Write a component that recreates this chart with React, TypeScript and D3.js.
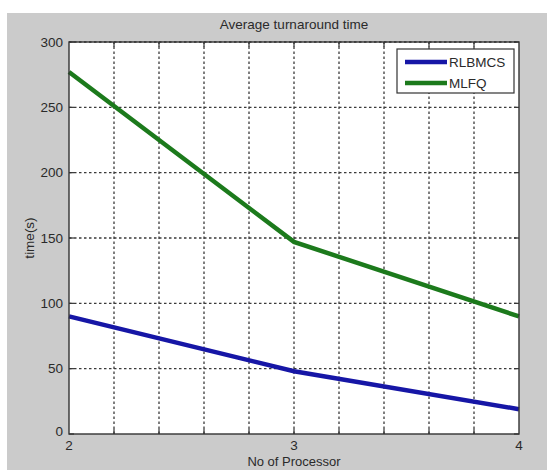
import React, { useRef, useEffect } from "react"
import * as d3 from "d3"

// data
const processors = [2, 3, 4]
const rlbmcs = [90, 48, 19]
const mlfq = [277, 147, 90]
const seriesNames = ["RLBMCS", "MLFQ"]
const yTicks = [0, 50, 100, 150, 200, 250, 300]
const xLabelTicks = [2, 3, 4]
const xGridTicks = [2.2, 2.4, 2.6, 2.8, 3, 3.2, 3.4, 3.6, 3.8]

const App = () => {
  const ref = useRef(null)
  const width = 547
  const height = 470
  const margin = { top: 42, right: 28, bottom: 36, left: 69 }

  useEffect(() => {
    if (!ref.current) return
    const svg = d3.select(ref.current)
    svg.selectAll("*").remove()

    const font = "'Liberation Sans', Arial, sans-serif"
    const x = d3.scaleLinear().domain([2, 4]).range([margin.left, width - margin.right])
    const y = d3.scaleLinear().domain([0, 300]).range([height - margin.bottom, margin.top])

    // figure background
    svg.append("rect").attr("width", width).attr("height", height).attr("fill", "#fff")
    svg.append("rect").attr("x", 7).attr("y", 13).attr("width", width - 7).attr("height", height - 13).attr("fill", "#cbcbcb")

    // plot area
    svg.append("rect")
      .attr("x", x(2)).attr("y", y(300))
      .attr("width", x(4) - x(2)).attr("height", y(0) - y(300))
      .attr("fill", "#fff")

    const grid = svg.append("g").attr("stroke", "#3a3a3a").attr("stroke-width", 1.3).attr("stroke-dasharray", "2.5,2.5")
    grid.selectAll("line.v").data(xGridTicks).join("line")
      .attr("x1", d => x(d)).attr("x2", d => x(d))
      .attr("y1", y(0)).attr("y2", y(300))
    grid.selectAll("line.h").data(yTicks.slice(1)).join("line")
      .attr("class", "h")
      .attr("x1", x(2)).attr("x2", x(4))
      .attr("y1", d => y(d)).attr("y2", d => y(d))

    // tick marks, inward on all four sides
    const ticks = svg.append("g").attr("stroke", "#333").attr("stroke-width", 1.2)
    const tl = 5
    xGridTicks.forEach(d => {
      ticks.append("line").attr("x1", x(d)).attr("x2", x(d)).attr("y1", y(0)).attr("y2", y(0) - tl)
      ticks.append("line").attr("x1", x(d)).attr("x2", x(d)).attr("y1", y(300)).attr("y2", y(300) + tl)
    })
    yTicks.forEach(d => {
      ticks.append("line").attr("x1", x(2)).attr("x2", x(2) + tl).attr("y1", y(d)).attr("y2", y(d))
      ticks.append("line").attr("x1", x(4)).attr("x2", x(4) - tl).attr("y1", y(d)).attr("y2", y(d))
    })

    // lines
    const line = d3.line<number>().x((d, i) => x(processors[i])).y(d => y(d))
    const colors = ["#1616a6", "#1c7a1c"]
    ;[rlbmcs, mlfq].forEach((s, k) => {
      svg.append("path").datum(s)
        .attr("d", line)
        .attr("fill", "none")
        .attr("stroke", colors[k])
        .attr("stroke-width", 4.5)
    })

    // axis box
    svg.append("rect")
      .attr("x", x(2)).attr("y", y(300))
      .attr("width", x(4) - x(2)).attr("height", y(0) - y(300))
      .attr("fill", "none").attr("stroke", "#333").attr("stroke-width", 1.4)

    const text = svg.append("g").attr("font-family", font).attr("fill", "#2a2a2a").attr("font-size", 13.5)

    // y labels
    text.selectAll("text.y").data(yTicks).join("text")
      .attr("class", "y")
      .attr("x", x(2) - 6)
      .attr("y", d => y(d) + (d === 0 ? 2 : 4.5))
      .attr("text-anchor", "end")
      .text(d => d)

    // x labels
    text.selectAll("text.x").data(xLabelTicks).join("text")
      .attr("class", "x")
      .attr("x", d => x(d))
      .attr("y", y(0) + 16)
      .attr("text-anchor", "middle")
      .text(d => d)

    text.append("text")
      .attr("x", (x(2) + x(4)) / 2).attr("y", 29)
      .attr("text-anchor", "middle")
      .text("Average turnaround time")

    text.append("text")
      .attr("x", (x(2) + x(4)) / 2).attr("y", 466)
      .attr("text-anchor", "middle")
      .attr("font-size", 13)
      .text("No of Processor")

    text.append("text")
      .attr("transform", `translate(34,${(y(0) + y(300)) / 2}) rotate(-90)`)
      .attr("text-anchor", "middle")
      .text("time(s)")

    // legend
    const lg = svg.append("g").attr("transform", "translate(397,49)")
    lg.append("rect").attr("width", 117).attr("height", 44)
      .attr("fill", "#fff").attr("stroke", "#333").attr("stroke-width", 1.2)
    seriesNames.forEach((n, i) => {
      lg.append("line")
        .attr("x1", 8).attr("x2", 50)
        .attr("y1", 13 + i * 21).attr("y2", 13 + i * 21)
        .attr("stroke", colors[i]).attr("stroke-width", 4.5)
      lg.append("text")
        .attr("x", 52).attr("y", 18 + i * 21)
        .attr("font-family", font).attr("font-size", 13.5).attr("fill", "#2a2a2a")
        .text(n)
    })
  }, [])

  return (
    <svg
      ref={ref}
      width={width}
      height={height}
      style={{ position: "absolute", left: 0, top: 0 }}
    />
  )
}

export default App
